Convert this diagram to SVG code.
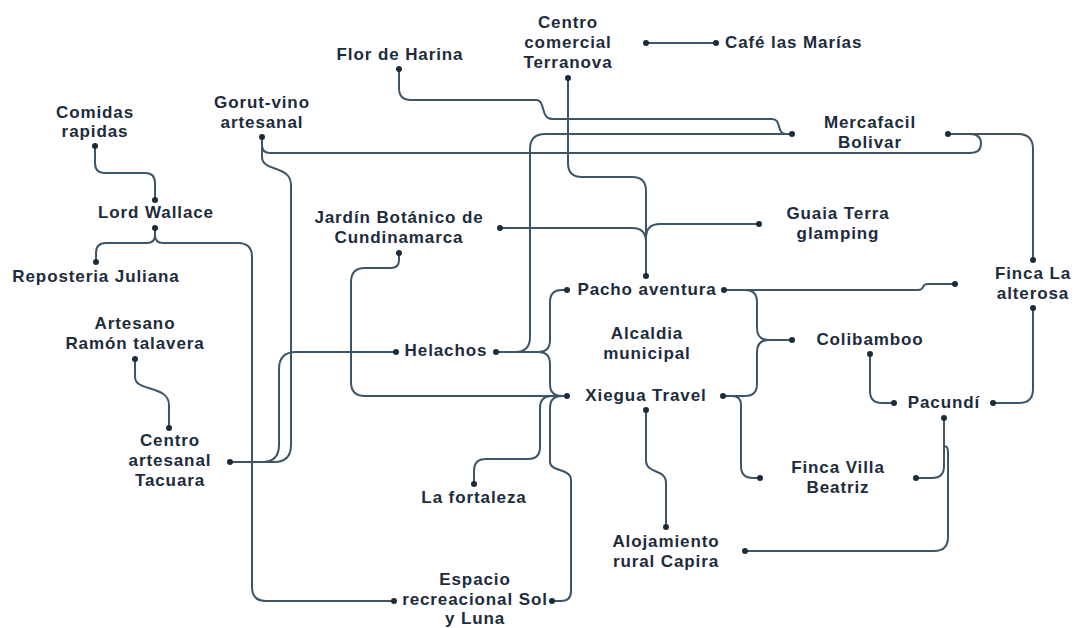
<svg xmlns="http://www.w3.org/2000/svg" width="1077" height="628" viewBox="0 0 1077 628">
<style>
text{font-family:"Liberation Sans",Arial,sans-serif;font-weight:bold;font-size:17px;letter-spacing:0.9px;fill:#1c2c3c;text-anchor:middle}
.s{text-anchor:start}
.c path{fill:none;stroke:#3e5467;stroke-width:2}
.d{fill:#1c2c3c}
</style>
<rect width="1077" height="628" fill="#fff"/>
<g class="c" id="connectors">
<path d="M95,146 V163 Q95,173 105,173 H145 Q155,173 155,183 V200"/>
<path d="M155,228 V235 Q155,243 147,243 H106 Q96,243 96,253 V262"/>
<path d="M155,228 V235 Q155,243 163,243 H238 Q252,243 252,257 V587 Q252,601 266,601 H394"/>
<path d="M135,359 V377 C135,392 169,385 169,405 V428"/>
<path d="M230,462 H262 Q279,462 279,445 V369 Q279,352 296,352 H396"/>
<path d="M262,137 V157 C262,172 291,165 291,185 V445 Q291,462 274,462 H230"/>
<path d="M262,137 V145 Q262,153 270,153 H970 Q981,153 981,143.5 Q981,134 970,134 H948"/>
<path d="M948,134 H1018 Q1033,134 1033,149 V260"/>
<path d="M399,69 V88 Q399,100 411,100 H536 C546,100 540,119 552,119 H772 C782,119 776,134 786,134 H792"/>
<path d="M496,352 H515 Q530,352 530,337 V149 Q530,134 545,134 H792"/>
<path d="M568,78 V163 Q568,177 582,177 H632 Q646,177 646,191 V276"/>
<path d="M500,228 H632 Q646,228 646,242 V276"/>
<path d="M759,224 H660 Q646,224 646,238 V276"/>
<path d="M646,43 H716"/>
<path d="M399,253 V260 Q399,268 391,268 H365 Q351,268 351,282 V382 Q351,396 365,396 H567"/>
<path d="M496,352 H538 Q550,352 550,340 V302 Q550,290 562,290 H567"/>
<path d="M496,352 H538 Q550,352 550,364 V384 Q550,396 562,396 H567"/>
<path d="M567,396 H552 Q540,396 540,408 V447 Q540,459 528,459 H486 Q474,459 474,471 V484"/>
<path d="M567,396 H562 Q550,396 550,408 V462 C550,472 571,468 571,480 V591 Q571,601 561,601 H552"/>
<path d="M724,290 H918 Q922,290 923,287 Q924,284 928,284 H955"/>
<path d="M724,290 H745 Q757,290 757,302 V328 Q757,340 769,340 H792"/>
<path d="M723,396 H745 Q757,396 757,384 V352 Q757,340 769,340 H792"/>
<path d="M723,396 H732 Q741,396 741,405 V466 Q741,478 753,478 H760"/>
<path d="M646,410 V460 C646,475 666,468 666,483 V527"/>
<path d="M870,354 V391 Q870,403 882,403 H894"/>
<path d="M1033,308 V389 Q1033,403 1019,403 H993"/>
<path d="M944,418 V466 Q944,478 932,478 H916"/>
<path d="M944,418 V446 Q948,446 948,452 V537 Q948,551 934,551 H745"/>
</g>
<g id="comidas"><text x="95" y="117.5">Comidas</text><text x="95" y="137">rapidas</text><circle class="d" cx="95" cy="146" r="3"/></g>
<g id="lordwallace"><text x="156" y="218">Lord Wallace</text><circle class="d" cx="155" cy="200" r="3"/><circle class="d" cx="155" cy="228" r="3"/></g>
<g id="reposteria"><text x="96" y="282">Reposteria Juliana</text><circle class="d" cx="96" cy="262" r="3"/></g>
<g id="artesano"><text x="135" y="329">Artesano</text><text x="135" y="349">Ramón talavera</text><circle class="d" cx="135" cy="359" r="3"/></g>
<g id="tacuara"><text x="170" y="446">Centro</text><text x="170" y="466">artesanal</text><text x="170" y="486">Tacuara</text><circle class="d" cx="169" cy="428" r="3"/><circle class="d" cx="230" cy="462" r="3"/></g>
<g id="gorut"><text x="262" y="108">Gorut-vino</text><text x="262" y="127.5">artesanal</text><circle class="d" cx="262" cy="137" r="3"/></g>
<g id="flor"><text x="400" y="60">Flor de Harina</text><circle class="d" cx="399" cy="69" r="3"/></g>
<g id="terranova"><text x="568" y="28">Centro</text><text x="568" y="48">comercial</text><text x="568" y="67.5">Terranova</text><circle class="d" cx="568" cy="78" r="3"/><circle class="d" cx="646" cy="43" r="3"/></g>
<g id="cafe"><text class="s" x="725" y="48">Café las Marías</text><circle class="d" cx="716" cy="43" r="3"/></g>
<g id="mercafacil"><text x="870" y="128">Mercafacil</text><text x="870" y="148">Bolivar</text><circle class="d" cx="792" cy="134" r="3"/><circle class="d" cx="948" cy="134" r="3"/></g>
<g id="jardin"><text x="399" y="223">Jardín Botánico de</text><text x="399" y="242.5">Cundinamarca</text><circle class="d" cx="500" cy="228" r="3"/><circle class="d" cx="399" cy="253" r="3"/></g>
<g id="guaia"><text x="838" y="219">Guaia Terra</text><text x="838" y="239">glamping</text><circle class="d" cx="759" cy="224" r="3"/></g>
<g id="pacho"><text x="647" y="295">Pacho aventura</text><circle class="d" cx="567" cy="290" r="3"/><circle class="d" cx="646" cy="276" r="3"/><circle class="d" cx="724" cy="290" r="3"/></g>
<g id="alcaldia"><text x="647" y="339">Alcaldia</text><text x="647" y="358.5">municipal</text></g>
<g id="helachos"><text x="446" y="356">Helachos</text><circle class="d" cx="396" cy="352" r="3"/><circle class="d" cx="496" cy="352" r="3"/></g>
<g id="xiegua"><text x="646" y="401">Xiegua Travel</text><circle class="d" cx="567" cy="396" r="3"/><circle class="d" cx="723" cy="396" r="3"/><circle class="d" cx="646" cy="410" r="3"/></g>
<g id="colibamboo"><text x="870" y="345">Colibamboo</text><circle class="d" cx="792" cy="340" r="3"/><circle class="d" cx="870" cy="354" r="3"/></g>
<g id="alterosa"><text x="1033" y="279">Finca La</text><text x="1033" y="298.5">alterosa</text><circle class="d" cx="1033" cy="260" r="3"/><circle class="d" cx="1033" cy="308" r="3"/><circle class="d" cx="955" cy="284" r="3"/></g>
<g id="pacundi"><text x="944" y="408">Pacundí</text><circle class="d" cx="894" cy="403" r="3"/><circle class="d" cx="993" cy="403" r="3"/><circle class="d" cx="944" cy="418" r="3"/></g>
<g id="beatriz"><text x="838" y="473">Finca Villa</text><text x="838" y="492.5">Beatriz</text><circle class="d" cx="760" cy="478" r="3"/><circle class="d" cx="916" cy="478" r="3"/></g>
<g id="fortaleza"><text x="474" y="503">La fortaleza</text><circle class="d" cx="474" cy="484" r="3"/></g>
<g id="capira"><text x="666" y="547">Alojamiento</text><text x="666" y="566.5">rural Capira</text><circle class="d" cx="666" cy="527" r="3"/><circle class="d" cx="745" cy="551" r="3"/></g>
<g id="espacio"><text x="475" y="585">Espacio</text><text x="475" y="604.5">recreacional Sol</text><text x="475" y="624">y Luna</text><circle class="d" cx="394" cy="601" r="3"/><circle class="d" cx="552" cy="601" r="3"/></g>
</svg>
